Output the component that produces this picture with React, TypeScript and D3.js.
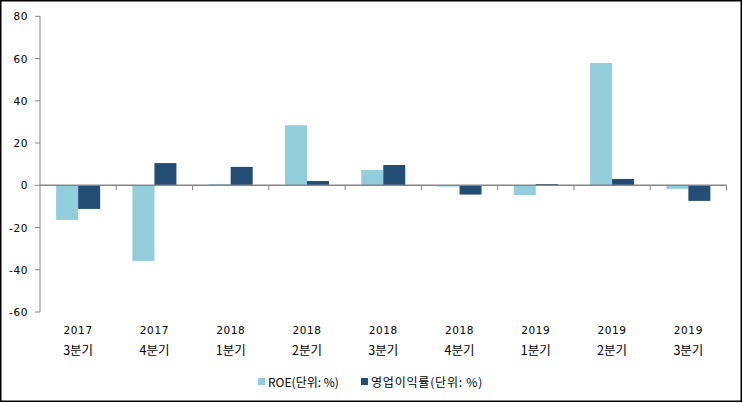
import { useEffect, useRef } from "react";
import * as d3 from "d3";

const years = ["2017", "2017", "2018", "2018", "2018", "2018", "2019", "2019", "2019"];
const quarters = ["3분기", "4분기", "1분기", "2분기", "3분기", "4분기", "1분기", "2분기", "3분기"];
const roe = [-16.4, -35.8, 0.6, 28.4, 7.2, -0.6, -4.6, 57.9, -1.7];
const opMargin = [-11.2, 10.5, 8.7, 2.0, 9.6, -4.4, 0.6, 3.0, -7.4];
const yTicks = [-60, -40, -20, 0, 20, 40, 60, 80];
const seriesNames = ["ROE(단위: %)", "영업이익률(단위: %)"];
const colors = ["#92cddc", "#234d74"];

const W = 743;
const H = 403;

export default function App() {
  const svgRef = useRef<SVGSVGElement>(null);

  useEffect(() => {
    document.body.style.margin = "0";
    if (!svgRef.current) return;
    const svg = d3.select(svgRef.current);
    svg.selectAll("*").remove();

    const font = "'Noto Sans CJK KR', 'DejaVu Sans', sans-serif";
    const numFont = "'DejaVu Sans', sans-serif";
    const left = 40, right = 726.5, top = 16.3, bottom = 312;

    // outer frame
    svg.append("rect")
      .attr("x", 0.75).attr("y", 0.75).attr("width", W - 2.5).attr("height", H - 2.5)
      .attr("fill", "#fff").attr("stroke", "#000").attr("stroke-width", 1.5);

    const idx = d3.range(years.length).map(String);
    const x = d3.scaleBand().domain(idx).range([left, right]);
    const y = d3.scaleLinear().domain([-60, 80]).range([bottom, top]);
    // group ~44px wide, centered in each category
    const groupW = 44;
    const barW = groupW / 2;

    const g = svg.append("g");

    // bars
    const series = [roe, opMargin];
    series.forEach((vals, s) => {
      g.selectAll(`.bar${s}`)
        .data(vals)
        .enter().append("rect")
        .attr("x", (_, i) => (x(String(i)) ?? 0) + (x.bandwidth() - groupW) / 2 + s * barW)
        .attr("width", barW)
        .attr("y", (d) => y(Math.max(0, d)))
        .attr("height", (d) => Math.abs(y(d) - y(0)))
        .attr("fill", colors[s]);
    });

    // y axis
    g.append("line")
      .attr("x1", left).attr("x2", left).attr("y1", top).attr("y2", bottom)
      .attr("stroke", "#868686").attr("stroke-width", 1);
    g.selectAll(".ytick")
      .data(yTicks)
      .enter().append("line")
      .attr("x1", left - 5).attr("x2", left)
      .attr("y1", (d) => y(d)).attr("y2", (d) => y(d))
      .attr("stroke", "#868686");
    g.selectAll(".ylabel")
      .data(yTicks)
      .enter().append("text")
      .attr("x", 28).attr("y", (d) => y(d) + 4)
      .attr("text-anchor", "end")
      .attr("font-family", numFont).attr("font-size", 10.5)
      .attr("letter-spacing", 0.6)
      .attr("fill", "#000")
      .text((d) => String(d));

    // x axis at zero
    g.append("line")
      .attr("x1", left).attr("x2", right).attr("y1", y(0)).attr("y2", y(0))
      .attr("stroke", "#868686").attr("stroke-width", 1.5);
    const bounds = d3.range(1, years.length + 1).map((i) => left + i * x.bandwidth());
    g.selectAll(".xtick")
      .data(bounds)
      .enter().append("line")
      .attr("x1", (d) => d).attr("x2", (d) => d)
      .attr("y1", y(0)).attr("y2", y(0) + 5)
      .attr("stroke", "#868686");

    // category labels
    g.selectAll(".yr")
      .data(years)
      .enter().append("text")
      .attr("x", (_, i) => (x(String(i)) ?? 0) + x.bandwidth() / 2)
      .attr("y", 334)
      .attr("text-anchor", "middle")
      .attr("font-family", numFont).attr("font-size", 10.5)
      .attr("letter-spacing", 0.6)
      .text((d) => d);
    g.selectAll(".qt")
      .data(quarters)
      .enter().append("text")
      .attr("x", (_, i) => (x(String(i)) ?? 0) + x.bandwidth() / 2)
      .attr("y", 355)
      .attr("text-anchor", "middle")
      .attr("font-family", font).attr("font-size", 12.5)
      .text((d) => d);

    // legend
    const legendX = [258, 361];
    seriesNames.forEach((name, s) => {
      g.append("rect")
        .attr("x", legendX[s]).attr("y", 378)
        .attr("width", 7).attr("height", 7)
        .attr("fill", colors[s]);
      g.append("text")
        .attr("x", legendX[s] + 10).attr("y", 387)
        .attr("font-family", font).attr("font-size", 12)
        .attr("letter-spacing", s === 1 ? 0.8 : 0)
        .text(name);
    });
  }, []);

  return <svg ref={svgRef} width={W} height={H} style={{ display: "block" }} />;
}
